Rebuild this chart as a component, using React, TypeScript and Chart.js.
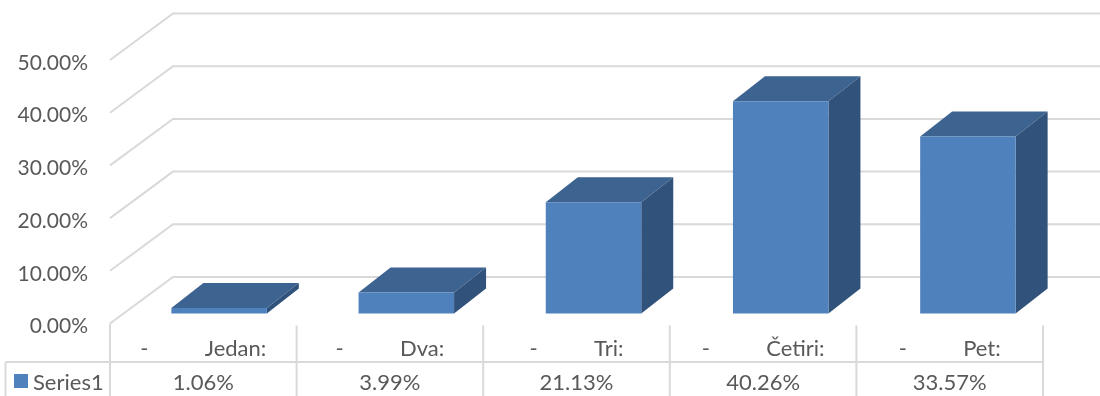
import React, { useEffect, useRef } from "react";
import { Chart, registerables } from "chart.js";

Chart.register(...registerables);

const categories = ["-          Jedan:", "-          Dva:", "-          Tri:", "-          Četiri:", "-          Pet:"];
const seriesName = "Series1";
const seriesValues = [1.06, 3.99, 21.13, 40.26, 33.57];
const tickValues = [0, 10, 20, 30, 40, 50];

const FONT = "Lato, Carlito, Calibri, sans-serif";
const TEXT = "#595959";
const GRID = "#D9D9D9";
const FRONT = "#4F81BD";
const TOP = "#3D6390";
const SIDE = "#31527A";
const DEPTH_X = 32;
const DEPTH_Y = -25;
const BAR_SHIFT_X = 15.5;
const BAR_SHIFT_Y = -10;
const WALL_X = 63;
const WALL_Y = -46.5;
const TABLE_LEFT = 110;
const TABLE_COL = 186.6;

const poly = (ctx: CanvasRenderingContext2D, pts: number[][], fill: string) => {
  ctx.beginPath();
  pts.forEach(([x, y], i) => (i ? ctx.lineTo(x, y) : ctx.moveTo(x, y)));
  ctx.closePath();
  ctx.fillStyle = fill;
  ctx.fill();
};

const line = (ctx: CanvasRenderingContext2D, x1: number, y1: number, x2: number, y2: number) => {
  ctx.beginPath();
  ctx.moveTo(x1, y1);
  ctx.lineTo(x2, y2);
  ctx.stroke();
};

const wallPlugin = {
  id: "wall",
  beforeDatasetsDraw(chart: any) {
    const { ctx, scales, width } = chart;
    ctx.save();
    ctx.strokeStyle = GRID;
    ctx.lineWidth = 2;
    tickValues.forEach((v) => {
      const y = scales.y.getPixelForValue(v);
      const left = chart.chartArea.left;
      ctx.beginPath();
      ctx.moveTo(left, y);
      ctx.lineTo(left + WALL_X, y + WALL_Y);
      ctx.lineTo(width, y + WALL_Y);
      ctx.stroke();
    });
    ctx.restore();
  },
};

const boxPlugin = {
  id: "box",
  beforeDatasetDraw(chart: any) {
    const { ctx } = chart;
    ctx.save();
    ctx.translate(BAR_SHIFT_X, BAR_SHIFT_Y);
    chart.getDatasetMeta(0).data.forEach((bar: any) => {
      const l = bar.x - bar.width / 2;
      const r = bar.x + bar.width / 2;
      poly(ctx, [[l, bar.y], [l + DEPTH_X, bar.y + DEPTH_Y], [r + DEPTH_X, bar.y + DEPTH_Y], [r, bar.y]], TOP);
      poly(ctx, [[r, bar.y], [r + DEPTH_X, bar.y + DEPTH_Y], [r + DEPTH_X, bar.base + DEPTH_Y], [r, bar.base]], SIDE);
    });
  },
  afterDatasetDraw(chart: any) {
    chart.ctx.restore();
  },
};

const tablePlugin = {
  id: "dataTable",
  afterDraw(chart: any) {
    const { ctx, scales, height } = chart;
    const y0 = scales.y.getPixelForValue(0);
    const rowLine = 362;
    const edges = categories.map((_, i) => TABLE_LEFT + i * TABLE_COL);
    const end = TABLE_LEFT + categories.length * TABLE_COL;
    ctx.save();
    ctx.strokeStyle = GRID;
    ctx.lineWidth = 2;
    line(ctx, 5.5, rowLine, end, rowLine);
    line(ctx, 5.5, rowLine, 5.5, height);
    line(ctx, TABLE_LEFT, y0, TABLE_LEFT, height);
    [...edges.slice(1), end].forEach((x) => line(ctx, x, y0 + 2, x, height));
    ctx.font = `22px ${FONT}`;
    ctx.fillStyle = TEXT;
    ctx.textAlign = "center";
    ctx.textBaseline = "middle";
    categories.forEach((c, i) => {
      const x = edges[i] + TABLE_COL / 2;
      ctx.fillText(c, x, 349);
      ctx.fillText(`${seriesValues[i].toFixed(2)}%`, x, 382.5);
    });
    ctx.textAlign = "left";
    ctx.fillText(seriesName, 33, 382.5);
    ctx.fillStyle = FRONT;
    ctx.fillRect(14, 374, 14, 14);
    ctx.restore();
  },
};

export default function App() {
  const ref = useRef<HTMLCanvasElement>(null);
  useEffect(() => {
    const chart = new Chart(ref.current!, {
      type: "bar",
      data: {
        labels: categories,
        datasets: [
          {
            label: seriesName,
            data: seriesValues,
            backgroundColor: FRONT,
            barPercentage: 0.51,
            categoryPercentage: 1,
            clip: false,
          } as any,
        ],
      },
      options: {
        animation: false,
        responsive: false,
        layout: { padding: { top: 60, bottom: 72.5, right: 54, left: 0 } },
        plugins: { legend: { display: false }, tooltip: { enabled: false } },
        scales: {
          x: { display: false },
          y: {
            min: 0,
            max: 50,
            afterBuildTicks: (s: any) => {
              s.ticks = tickValues.map((value) => ({ value }));
            },
            afterFit: (s: any) => {
              s.width = 110;
            },
            grid: { display: false, drawTicks: false },
            border: { display: false },
            ticks: {
              padding: 22,
              labelOffset: 3,
              color: TEXT,
              font: { family: FONT, size: 21 },
              callback: (v: any) => `${Number(v).toFixed(2)}%`,
            },
          },
        },
      },
      plugins: [wallPlugin, boxPlugin, tablePlugin],
    });
    return () => chart.destroy();
  }, []);
  return (
    <canvas
      ref={ref}
      width={1100}
      height={396}
      style={{ position: "absolute", left: 0, top: 0, display: "block", background: "#fff" }}
    />
  );
}
